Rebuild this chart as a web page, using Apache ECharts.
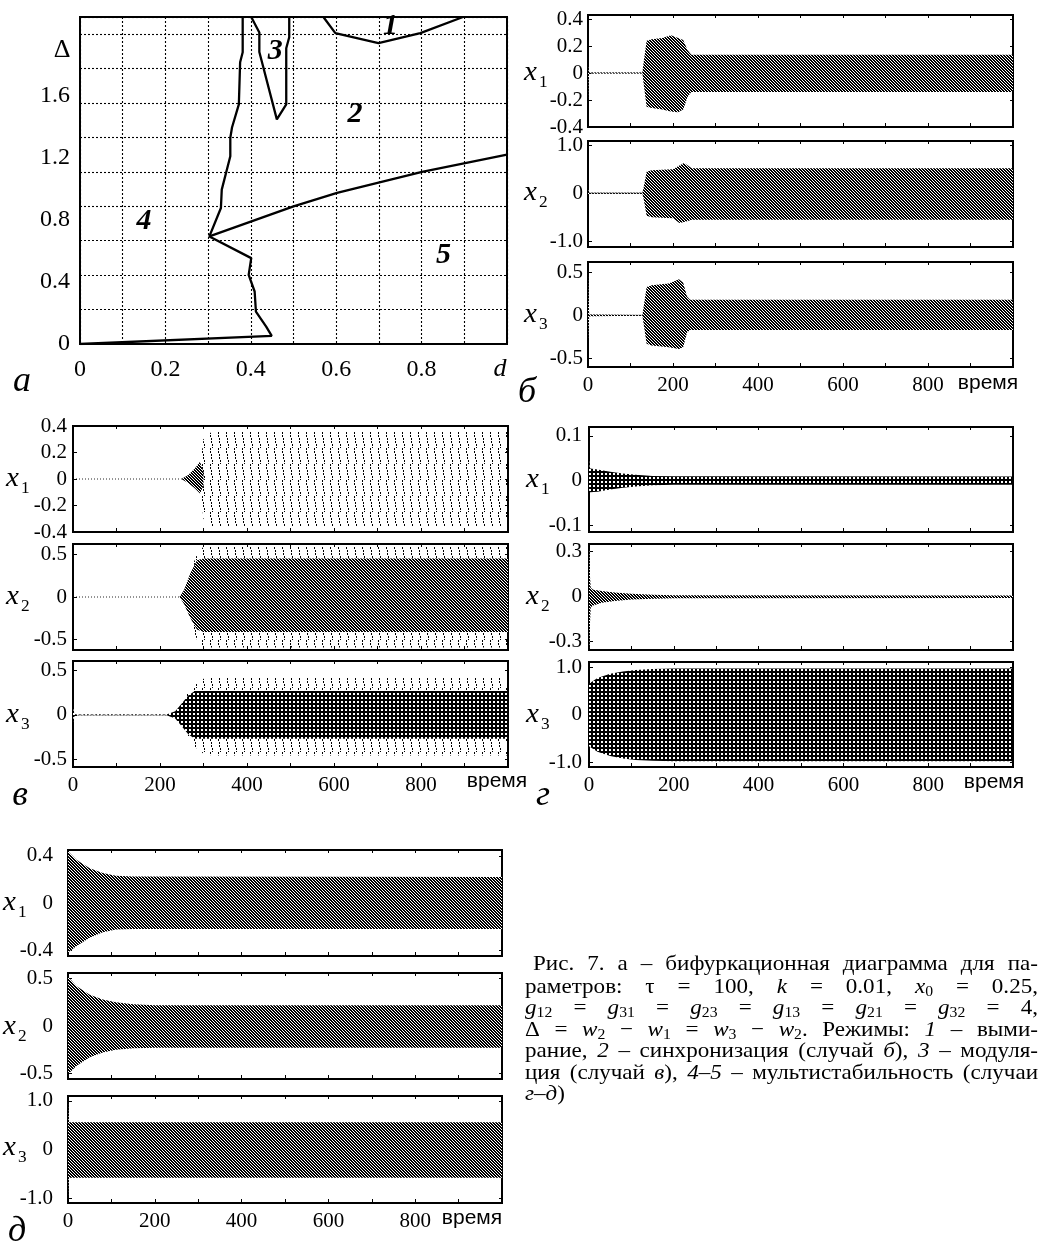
<!DOCTYPE html>
<html><head><meta charset="utf-8">
<script src="https://cdn.jsdelivr.net/npm/echarts@6/dist/echarts.min.js"></script>
<style>html,body{margin:0;padding:0;background:#fff;}#c{width:1041px;height:1246px;}</style>
</head><body><div id="c"></div>
<script>
// ---------------- DATA ----------------
// Panel а: bifurcation diagram (d, Δ)
const A_X_TICKS = [0, 0.2, 0.4, 0.6, 0.8];
const A_Y_TICKS = [0, 0.4, 0.8, 1.2, 1.6];
const A_BOUND_4 = [[0.381,1.9],[0.381,1.695],[0.375,1.637],[0.372,1.392],[0.356,1.258],[0.352,1.198],[0.352,1.091],[0.332,0.897],[0.330,0.790],[0.303,0.625],[0.401,0.499],[0.395,0.402],[0.409,0.305],[0.412,0.188],[0.436,0.101],[0.449,0.047],[0,0]];
const A_LOOP_3 = [[0.401,1.9],[0.420,1.81],[0.420,1.697],[0.461,1.305],[0.483,1.392],[0.483,1.718],[0.490,1.782],[0.490,1.9]];
const A_BOUND_1 = [[0.570,1.9],[0.598,1.806],[0.699,1.748],[0.797,1.806],[0.897,1.9]];
const A_BOUND_25 = [[0.303,0.625],[0.5,0.80],[0.602,0.878],[0.801,1.0],[1.0,1.101]];
const A_REGIONS = [['1',0.727,1.847],['2',0.644,1.334],['3',0.457,1.701],['4',0.150,0.711],['5',0.851,0.518]];

// time axis labels
const T_LABELS = [0, 200, 400, 600, 800];

// Panel б
const B1_T  = [0, 1, 3, 128, 131, 138, 150, 175, 195, 212, 224, 234, 243, 1000];
const B1_UP = [0.06, 0.02, 0.003, 0.003, 0.08, 0.24, 0.25, 0.26, 0.28, 0.26, 0.245, 0.17, 0.135, 0.135];
const B1_LO = [-0.2, -0.05, -0.003, -0.003, -0.08, -0.25, -0.26, -0.27, -0.285, -0.29, -0.27, -0.18, -0.14, -0.14];
const B2_T  = [0, 1, 3, 128, 131, 138, 150, 200, 215, 226, 235, 244, 1000];
const B2_UP = [0.12, 0.05, 0.01, 0.01, 0.12, 0.45, 0.48, 0.5, 0.58, 0.63, 0.58, 0.52, 0.52];
const B2_LO = [-0.05, -0.02, -0.01, -0.01, -0.12, -0.47, -0.5, -0.52, -0.62, -0.6, -0.58, -0.55, -0.55];
const B3_T  = [0, 1, 3, 128, 131, 138, 150, 190, 214, 224, 233, 240, 1000];
const B3_UP = [0.48, 0.2, 0.01, 0.005, 0.1, 0.33, 0.35, 0.37, 0.42, 0.38, 0.22, 0.18, 0.18];
const B3_LO = [-0.29, -0.15, -0.01, -0.005, -0.1, -0.33, -0.35, -0.37, -0.39, -0.37, -0.2, -0.17, -0.17];
const B1_TICKS = ['0.4','0.2','0','-0.2','-0.4'];
const B2_TICKS = ['1.0','0','-1.0'];
const B3_TICKS = ['0.5','0','-0.5'];

// Panel в
const V1C_T  = [250, 265, 280, 292, 300];
const V1C_UP = [0.002, 0.03, 0.08, 0.13, 0.05];
const V1C_LO = [-0.002, -0.03, -0.07, -0.11, -0.05];
const V1S_T  = [293, 300, 318, 1000];
const V1S_UP = [0.12, 0.3, 0.355, 0.355];
const V1S_LO = [-0.1, -0.3, -0.36, -0.36];
const V2C_T  = [245, 255, 270, 285, 300, 1000];
const V2C_UP = [0.003, 0.08, 0.28, 0.43, 0.45, 0.45];
const V2C_LO = [-0.003, -0.08, -0.25, -0.38, -0.41, -0.41];
const V2S_T  = [268, 285, 300, 1000];
const V2S_UP = [0.28, 0.5, 0.59, 0.59];
const V2S_LO = [-0.26, -0.5, -0.59, -0.59];
const V3C_T  = [0, 2, 5, 215, 235, 250, 265, 280, 300, 1000];
const V3C_UP = [0.08, 0.03, 0.004, 0.004, 0.04, 0.13, 0.22, 0.27, 0.27, 0.27];
const V3C_LO = [-0.08, -0.03, -0.004, -0.004, -0.04, -0.13, -0.22, -0.27, -0.27, -0.27];
const V3S_T  = [262, 280, 300, 320, 1000];
const V3S_UP = [0.24, 0.34, 0.41, 0.43, 0.43];
const V3S_LO = [-0.24, -0.36, -0.44, -0.46, -0.46];
const V1_TICKS = ['0.4','0.2','0','-0.2','-0.4'];
const V2_TICKS = ['0.5','0','-0.5'];
const V3_TICKS = ['0.5','0','-0.5'];

// Panel г
const G1_T  = [0, 1, 3, 20, 50, 80, 110, 150, 200, 1000];
const G1_UP = [0.05, 0.03, 0.027, 0.025, 0.02, 0.016, 0.013, 0.0105, 0.0095, 0.009];
const G1_LO = [-0.02, -0.026, -0.026, -0.025, -0.02, -0.016, -0.013, -0.0105, -0.0095, -0.009];
const G2_T  = [0, 1, 2, 4, 10, 30, 60, 100, 150, 200, 1000];
const G2_UP = [0.32, 0.3, 0.15, 0.06, 0.046, 0.038, 0.028, 0.019, 0.013, 0.01, 0.008];
const G2_LO = [-0.34, -0.33, -0.2, -0.07, -0.058, -0.04, -0.028, -0.019, -0.013, -0.01, -0.008];
const G3_T  = [0, 20, 50, 80, 110, 150, 200, 1000];
const G3_UP = [0.66, 0.78, 0.87, 0.92, 0.95, 0.97, 0.98, 0.98];
const G3_LO = [-0.66, -0.78, -0.87, -0.92, -0.95, -0.97, -0.98, -0.98];
const G1_TICKS = ['0.1','0','-0.1'];
const G2_TICKS = ['0.3','0','-0.3'];
const G3_TICKS = ['1.0','0','-1.0'];

// Panel д
const D1_T  = [0, 20, 50, 80, 110, 150, 1000];
const D1_UP = [0.44, 0.366, 0.296, 0.254, 0.231, 0.225, 0.22];
const D1_LO = [-0.42, -0.366, -0.296, -0.248, -0.225, -0.22, -0.22];
const D2_T  = [0, 20, 50, 80, 110, 150, 200, 1000];
const D2_UP = [0.52, 0.42, 0.33, 0.28, 0.25, 0.23, 0.22, 0.22];
const D2_LO = [-0.51, -0.42, -0.33, -0.28, -0.25, -0.235, -0.229, -0.229];
const D3_T  = [0, 0.5, 2, 3, 1000];
const D3_UP = [1.0, 0.8, 0.56, 0.56, 0.56];
const D3_LO = [-1.0, -0.8, -0.58, -0.58, -0.58];
const D1_TICKS = ['0.4','0','-0.4'];
const D2_TICKS = ['0.5','0','-0.5'];
const D3_TICKS = ['1.0','0','-1.0'];

// Caption
const CAPTION = [
  ['Рис.','7.','а','–','бифуркационная','диаграмма','для','па-'],
  ['раметров:','τ','=','100,','{i|k}','=','0.01,','{i|x}{s|0}','=','0.25,'],
  ['{i|g}{s|12}','=','{i|g}{s|31}','=','{i|g}{s|23}','=','{i|g}{s|13}','=','{i|g}{s|21}','=','{i|g}{s|32}','=','4,'],
  ['Δ','=','{i|w}{s|2}','−','{i|w}{s|1}','=','{i|w}{s|3}','−','{i|w}{s|2}.','Режимы:','{i|1}','–','выми-'],
  ['рание,','{i|2}','–','синхронизация','(случай','{i|б}),','{i|3}','–','модуля-'],
  ['ция','(случай','{i|в}),','{i|4–5}','–','мультистабильность','(случаи'],
  ['{i|г–д})']
];

// ---------------- STYLE / LAYOUT ----------------
const SERIF = '"Liberation Serif","Times New Roman",serif';
const SANS = '"Liberation Sans",Arial,sans-serif';
const SX = 1.05; // horizontal stretch of the original scan

function pat(w, h, fn) { const c = document.createElement('canvas'); c.width = w; c.height = h; const g = c.getContext('2d'); fn(g); return {image: c, repeat: 'repeat'}; }
const PAT = {
  dense: pat(3, 3, g => { g.fillStyle = '#fff'; g.fillRect(0,0,3,3); g.fillStyle = '#000'; for (let i = 0; i < 3; i++) { g.fillRect(i, i, 1, 1); g.fillRect((i+1)%3, i, 1, 1); } }),
  check: pat(4, 4, g => { g.fillStyle = '#000'; g.fillRect(0,0,4,4); g.fillStyle = '#fff'; g.fillRect(1,1,2,2); }),
  sparse: pat(8, 16, g => { g.fillStyle = '#000'; for (let y = 0; y < 16; y++) { if (y % 3 !== 2) g.fillRect(2 + Math.floor(y/6), y, 1, 1); } })
};

const SUBPLOTS = [
  {box:[588,15,1013,127], y:[-0.40,0.43], ticks:B1_TICKS, bands:[[B1_T,B1_UP,B1_LO,'dense']], quiet:[3,128,'dotted'], sub:'1', lab:[524,73], bottom:false, m:5},
  {box:[588,141,1013,247], y:[-1.12,1.09], ticks:B2_TICKS, bands:[[B2_T,B2_UP,B2_LO,'dense']], quiet:[3,128,'solid'], sub:'2', lab:[524,193], bottom:false, m:5},
  {box:[588,262,1013,367], y:[-0.6,0.62], ticks:B3_TICKS, bands:[[B3_T,B3_UP,B3_LO,'dense']], quiet:[3,128,'solid'], sub:'3', lab:[524,315], bottom:true, m:5, time:[988,383]},
  {box:[73,426,508,532], y:[-0.4,0.4], ticks:V1_TICKS, bands:[[V1S_T,V1S_UP,V1S_LO,'sparse'],[V1C_T,V1C_UP,V1C_LO,'dense']], quiet:[0,250,'dotted'], sub:'1', lab:[6,479], bottom:false, m:6},
  {box:[73,544,508,650], y:[-0.62,0.62], ticks:V2_TICKS, bands:[[V2S_T,V2S_UP,V2S_LO,'sparse'],[V2C_T,V2C_UP,V2C_LO,'dense']], quiet:[0,245,'dotted'], sub:'2', lab:[6,597], bottom:false, m:6},
  {box:[73,661,508,767], y:[-0.59,0.61], ticks:V3_TICKS, bands:[[V3S_T,V3S_UP,V3S_LO,'sparse'],[V3C_T,V3C_UP,V3C_LO,'check']], quiet:[5,215,'dotted'], sub:'3', lab:[6,715], bottom:true, m:6, time:[497,781]},
  {box:[589,427,1013,532], y:[-0.115,0.12], ticks:G1_TICKS, bands:[[G1_T,G1_UP,G1_LO,'check']], quiet:null, sub:'1', lab:[526,480], bottom:false, m:7},
  {box:[589,544,1013,650], y:[-0.355,0.351], ticks:G2_TICKS, bands:[[G2_T,G2_UP,G2_LO,'dense']], quiet:null, sub:'2', lab:[526,597], bottom:false, m:7},
  {box:[589,662,1013,767], y:[-1.1,1.12], ticks:G3_TICKS, bands:[[G3_T,G3_UP,G3_LO,'check']], quiet:null, sub:'3', lab:[526,715], bottom:true, m:7, time:[994,782]},
  {box:[68,850,502,956], y:[-0.45,0.45], ticks:D1_TICKS, bands:[[D1_T,D1_UP,D1_LO,'dense']], quiet:null, sub:'1', lab:[3,903], bottom:false, m:15},
  {box:[68,973,502,1079], y:[-0.56,0.56], ticks:D2_TICKS, bands:[[D2_T,D2_UP,D2_LO,'dense']], quiet:null, sub:'2', lab:[3,1027], bottom:false, m:15},
  {box:[68,1096,502,1203], y:[-1.1,1.1], ticks:D3_TICKS, bands:[[D3_T,D3_UP,D3_LO,'dense']], quiet:null, sub:'3', lab:[3,1148], bottom:true, m:15, time:[472,1218]}
];

const grids = [], xAxes = [], yAxes = [], series = [], gfx = [];
const DOT = {color:'#000', width:1.1, type:[2,2]};

// ---- Panel а ----
grids.push({left:80, top:17, width:427, height:327, show:true, borderColor:'#000', borderWidth:2, backgroundColor:'transparent'});
xAxes.push({type:'value', gridIndex:0, min:0, max:1, interval:0.1,
  axisLine:{show:false, onZero:false}, axisTick:{show:false},
  splitLine:{show:true, lineStyle:DOT},
  axisLabel:{customValues:A_X_TICKS, formatter:v => String(+v.toFixed(1)), fontFamily:SERIF, fontSize:24, color:'#000', margin:14}});
yAxes.push({type:'value', gridIndex:0, min:0, max:1.9, interval:0.2,
  axisLine:{show:false, onZero:false}, axisTick:{show:false}, axisLabel:{show:false},
  splitLine:{show:true, lineStyle:DOT}});
yAxes.push({type:'value', gridIndex:0, min:0, max:2.105, position:'left',
  axisLine:{show:false, onZero:false}, axisTick:{show:false}, splitLine:{show:false},
  axisLabel:{customValues:A_Y_TICKS, formatter:v => v === 0 ? '0' : v.toFixed(1), fontFamily:SERIF, fontSize:24, color:'#000', margin:10}});
[A_BOUND_4, A_LOOP_3, A_BOUND_1, A_BOUND_25].forEach(d => series.push({
  type:'line', xAxisIndex:0, yAxisIndex:0, data:d, showSymbol:false, symbol:'none', silent:true,
  lineStyle:{color:'#000', width:2.3}, z:5}));
series.push({type:'scatter', xAxisIndex:0, yAxisIndex:0, symbolSize:0, silent:true, itemStyle:{opacity:1},
  data:A_REGIONS.map(r => ({value:[r[1], r[2]], name:r[0]})),
  label:{show:true, position:'inside', opacity:1, formatter:p => p.name, fontFamily:SERIF, fontStyle:'italic', fontWeight:'bold', fontSize:30, color:'#000'}, z:6});

// ---- time-series subplots ----
SUBPLOTS.forEach((sp) => {
  const gi = grids.length;
  const [l, t, r, b] = sp.box;
  grids.push({left:l, top:t, width:r-l, height:b-t, show:true, borderColor:'#000', borderWidth:2, backgroundColor:'transparent'});
  const xi = xAxes.length;
  xAxes.push({type:'value', gridIndex:gi, position:'bottom', min:0, max:1000, interval:100,
    axisLine:{show:false, onZero:false}, splitLine:{show:false},
    axisTick:{show:true, inside:true, length:4, lineStyle:{color:'#000', width:1}},
    axisLabel:{show:sp.bottom, customValues:T_LABELS, fontFamily:SERIF, fontSize:21, color:'#000', margin:8}});
  xAxes.push({type:'value', gridIndex:gi, position:'top', min:0, max:1000, interval:100,
    axisLine:{show:false, onZero:false}, splitLine:{show:false}, axisLabel:{show:false},
    axisTick:{show:true, inside:true, length:3, lineStyle:{color:'#000', width:1}}});
  const vals = sp.ticks.map(s => parseFloat(s));
  const yi = yAxes.length;
  yAxes.push({type:'value', gridIndex:gi, position:'left', min:sp.y[0], max:sp.y[1],
    axisLine:{show:false, onZero:false}, splitLine:{show:false},
    axisTick:{show:true, inside:true, length:4, customValues:vals, lineStyle:{color:'#000', width:1}},
    axisLabel:{customValues:vals, formatter:v => { const i = vals.findIndex(q => Math.abs(q - v) < 1e-9); return i >= 0 ? sp.ticks[i] : ''; },
      fontFamily:SERIF, fontSize:21, color:'#000', margin:sp.m}});
  yAxes.push({type:'value', gridIndex:gi, position:'right', min:sp.y[0], max:sp.y[1],
    axisLine:{show:false, onZero:false}, splitLine:{show:false}, axisLabel:{show:false},
    axisTick:{show:true, inside:true, length:3, customValues:vals, lineStyle:{color:'#000', width:1}}});
  if (sp.quiet) {
    series.push({type:'line', xAxisIndex:xi, yAxisIndex:yi, data:[[sp.quiet[0],0],[sp.quiet[1],0]], symbol:'none', silent:true,
      lineStyle:{color:'#000', width:1, type:sp.quiet[2] === 'dotted' ? [1,2] : 'solid', opacity:0.85}, z:3});
  }
  sp.bands.forEach((bd, j) => {
    const [T, UP, LO, pname] = bd;
    series.push({type:'custom', coordinateSystem:'cartesian2d', xAxisIndex:xi, yAxisIndex:yi, silent:true, z:4 + j,
      data:T.map((tt, i) => [tt, UP[i], LO[i]]), encode:{x:0, y:[1,2]},
      renderItem:(params, api) => {
        if (params.dataIndex !== 0) return null;
        const pts = [];
        for (let i = 0; i < T.length; i++) pts.push(api.coord([T[i], UP[i]]));
        for (let i = T.length - 1; i >= 0; i--) pts.push(api.coord([T[i], LO[i]]));
        return {type:'polygon', shape:{points:pts}, style:{fill:PAT[pname], stroke:null}};
      }});
  });
  gfx.push({type:'text', x:sp.lab[0], y:sp.lab[1], scaleX:1.08, style:{text:'x', font:`italic 27px ${SERIF}`, fill:'#000', textAlign:'left', textVerticalAlign:'middle'}});
  gfx.push({type:'text', x:sp.lab[0] + 15, y:sp.lab[1] + 10, scaleX:1.08, style:{text:sp.sub, font:`16px ${SERIF}`, fill:'#000', textAlign:'left', textVerticalAlign:'middle'}});
  if (sp.time) gfx.push({type:'text', x:sp.time[0], y:sp.time[1], style:{text:'время', font:`21px ${SANS}`, fill:'#000', textAlign:'center', textVerticalAlign:'middle'}});
});

// ---- texts on panel а ----
gfx.push({type:'text', x:62, y:50, style:{text:'Δ', font:`26px ${SERIF}`, fill:'#000', textAlign:'center', textVerticalAlign:'middle'}});
gfx.push({type:'text', x:500, y:369, style:{text:'d', font:`italic 26px ${SERIF}`, fill:'#000', textAlign:'center', textVerticalAlign:'middle'}});
[['а',22,382],['б',527,393],['в',20,796],['г',543,796],['д',17,1232]].forEach(p =>
  gfx.push({type:'text', x:p[1], y:p[2], style:{text:p[0], font:`italic 36px ${SERIF}`, fill:'#000', textAlign:'center', textVerticalAlign:'middle'}}));

// ---- caption (justified) ----
const CAP_FONT = {n:`22px ${SERIF}`, i:`italic 22px ${SERIF}`, s:`15px ${SERIF}`};
const mctx = document.createElement('canvas').getContext('2d');
function parseTok(tok) {
  const segs = []; const re = /\{(\w+)\|([^}]*)\}|([^{]+)/g; let m;
  while ((m = re.exec(tok))) { if (m[1]) segs.push([m[1], m[2]]); else segs.push(['n', m[3]]); }
  return segs;
}
function segW(s) { mctx.font = CAP_FONT[s[0]]; return mctx.measureText(s[1]).width * SX; }
const CAP_Y = [964, 987, 1008.5, 1030, 1051.5, 1073, 1094.5];
const CAP_L = [533, 525, 525, 525, 525, 525, 525];
const CAP_R = 1038;
CAPTION.forEach((line, li) => {
  const toks = line.map(parseTok);
  const widths = toks.map(sg => sg.reduce((a, s) => a + segW(s), 0));
  const total = widths.reduce((a, b) => a + b, 0);
  const justify = li < CAPTION.length - 1 && toks.length > 1;
  const gap = justify ? (CAP_R - CAP_L[li] - total) / (toks.length - 1) : 6;
  let x = CAP_L[li];
  toks.forEach((sg, ti) => {
    let xx = x;
    sg.forEach(s => {
      gfx.push({type:'text', x:xx, y:CAP_Y[li] + (s[0] === 's' ? 5 : 0), scaleX:SX,
        style:{text:s[1], font:CAP_FONT[s[0]], fill:'#000', textAlign:'left', textVerticalAlign:'middle'}});
      xx += segW(s);
    });
    x += widths[ti] + gap;
  });
});

const chart = echarts.init(document.getElementById('c'), null, {renderer:'canvas', width:1041, height:1246});
chart.setOption({
  animation:false, backgroundColor:'#fff',
  grid:grids, xAxis:xAxes, yAxis:yAxes, series:series,
  graphic:{elements:gfx}
});
</script></body></html>
